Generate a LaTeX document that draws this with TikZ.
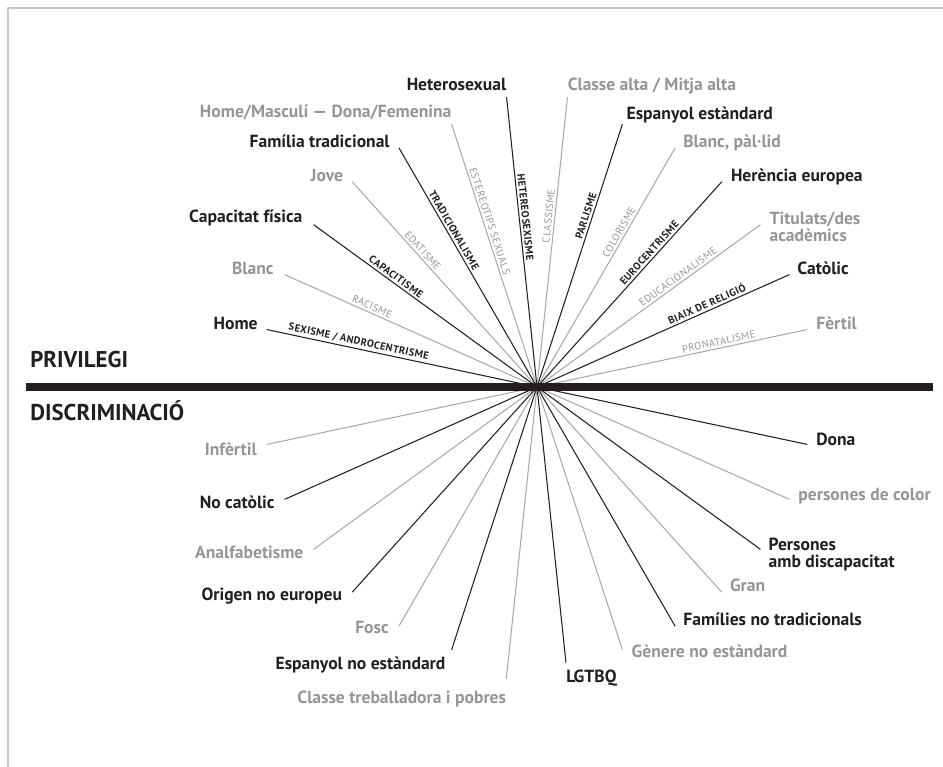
\documentclass[tikz,border=0pt]{standalone}
\usepackage{fontspec}
\setmainfont{PT Sans}
\newfontfamily\ismfont{PT Sans}[LetterSpace=4.0]
\definecolor{blk}{HTML}{231F20}
\definecolor{gry}{HTML}{939598}
\definecolor{gryline}{HTML}{A7A9AC}
\definecolor{marc}{HTML}{C8C8C8}

\begin{document}
\begin{tikzpicture}[line cap=round, line join=round, font=\fontsize{10}{9.8}\selectfont\bfseries]
	\tikzset{
		pol/.style={line width=0.6pt, blk},
		polg/.style={line width=0.6pt, gryline},
		ism/.style={sloped, above, inner sep=1.2pt, font=\ismfont\fontsize{5.9}{6}\selectfont\bfseries, text=blk},
		ismg/.style={sloped, above, inner sep=1.2pt, font=\ismfont\fontsize{5.9}{6}\selectfont, text=gry},
		lab/.style={inner sep=0pt, text=blk},
		labg/.style={inner sep=0pt, text=gry},
		titol/.style={inner sep=0pt, anchor=base west, font=\fontsize{13}{15}\selectfont\bfseries, text=blk}
	}
	\useasboundingbox (-10.74,-7.60) rectangle (8.12,7.74);
	% marc
	\draw[marc, line width=0.8pt] (-10.58,-7.60) -- (-10.58,7.58) -- (8.12,7.58);
	
	% extrems de les línies
	\coordinate (O) at (0,0);
	\foreach \a [count=\i] in {168,156,...,12} {
		\coordinate (t\i) at (\a:5.52);
		\coordinate (b\i) at (\a+180:5.52);
	}
	\coordinate (t7) at (96:5.82);
	\coordinate (b7) at (276:5.54);
	\coordinate (t8) at (84:5.82);
	\coordinate (b8) at (264:5.86);
	
	% línies
	\draw[pol] (t1) -- (b1) node[ism, pos=.167]{SEXISME / ANDROCENTRISME};
	\draw[polg] (t2) -- (b2) node[ismg, pos=.168]{RACISME};
	\draw[pol] (t3) -- (b3) node[ism, pos=.176]{CAPACITISME};
	\draw[polg] (t4) -- (b4) node[ismg, pos=.178]{EDATISME};
	\draw[pol] (t5) -- (b5) node[ism, pos=.179]{TRADICIONALISME};
	\draw[polg] (t6) -- (b6) node[ismg, pos=.188]{ESTEREOTIPS SEXUALS};
	\draw[pol] (t7) -- (b7) node[ism, pos=.213]{HETEREOSEXISME};
	\draw[polg] (t8) -- (b8) node[ismg, pos=.205]{CLASSISME};
	\draw[pol] (t9) -- (b9) node[ism, pos=.178]{PARLISME};
	\draw[polg] (t10) -- (b10) node[ismg, pos=.183]{COLORISME};
	\draw[pol] (t11) -- (b11) node[ism, pos=.183]{EUROCENTRISME};
	\draw[polg] (t12) -- (b12) node[ismg, pos=.176]{EDUCACIONALISME};
	\draw[pol] (t13) -- (b13) node[ism, pos=.158]{BIAIX DE RELIGIÓ};
	\draw[polg] (t14) -- (b14) node[ismg, pos=.161]{PRONATALISME};
	
	% barra
	\coordinate (barl) at (-10.22,0);
	\coordinate (barr) at (7.92,0);
	\draw[blk, line width=4.4pt, line cap=butt] (barl) -- (barr);
	\node[titol] (priv) at (-10.14,0.38) {PRIVILEGI};
	\node[titol] (discr) at (-10.14,-0.674) {DISCRIMINACIÓ};
	
	% privilegi
	\node[lab, anchor=base east] (home) at ([xshift=-0.18cm]t1) {Home};
	\node[labg, anchor=base east] (blanc) at ([xshift=-0.22cm]t2) {Blanc};
	\node[lab, anchor=base east] (capfis) at ([xshift=-0.22cm, yshift=0.04cm]t3) {Capacitat física};
	\node[labg, anchor=base east] (jove) at ([xshift=-0.18cm]t4) {Jove};
	\node[lab, anchor=base east] (famtrad) at ([xshift=-0.18cm]t5) {Família tradicional};
	\node[labg, anchor=base east] (binari) at ([yshift=0.14cm]t6) {Home/Masculí — Dona/Femenina};
	\node[lab, anchor=base east] (hetero) at ([yshift=0.15cm]t7) {Heterosexual};
	\node[labg, anchor=base west] (classalta) at ([yshift=0.15cm]t8) {Classe alta / Mitja alta};
	\node[lab, anchor=base west] (espstd) at ([xshift=0.08cm, yshift=0.1cm]t9) {Espanyol estàndard};
	\node[labg, anchor=base west] (blancpal) at ([xshift=0.16cm]t10) {Blanc, pàl·lid};
	\node[lab, anchor=base west] (heren) at ([xshift=0.18cm]t11) {Herència europea};
	\node[labg, anchor=base west, align=left] (titulats) at ([xshift=0.18cm, yshift=-0.33cm]t12) {Titulats/des\\acadèmics};
	\node[lab, anchor=base west] (catolic) at ([xshift=0.16cm]t13) {Catòlic};
	\node[labg, anchor=base west] (fertil) at ([xshift=0.18cm]t14) {Fèrtil};
	
	% discriminació
	\node[lab, anchor=mid west] (dona) at ([xshift=0.18cm, yshift=0.07cm]b1) {Dona};
	\node[labg, anchor=mid west] (pcolor) at ([xshift=0.18cm, yshift=0.07cm]b2) {persones de color};
	\node[lab, anchor=base west, align=left] (discap) at ([xshift=0.16cm, yshift=-0.36cm]b3) {Persones\\amb discapacitat};
	\node[labg, anchor=mid west] (gran) at ([xshift=0.16cm, yshift=0.09cm]b4) {Gran};
	\node[lab, anchor=mid west] (famnotrad) at ([xshift=0.16cm, yshift=0.09cm]b5) {Famílies no tradicionals};
	\node[labg, anchor=mid west] (genstd) at ([xshift=0.18cm, yshift=-0.07cm]b6) {Gènere no estàndard};
	\node[lab, anchor=mid west] (lgtbq) at ([yshift=-0.31cm]b7) {LGTBQ};
	\node[labg, anchor=mid east] (classtreb) at ([yshift=-0.41cm]b8) {Classe treballadora i pobres};
	\node[lab, anchor=mid east] (espno) at ([xshift=-0.12cm, yshift=-0.31cm]b9) {Espanyol no estàndard};
	\node[labg, anchor=mid east] (fosc) at ([xshift=-0.2cm, yshift=-0.07cm]b10) {Fosc};
	\node[lab, anchor=mid east] (origen) at ([xshift=-0.2cm, yshift=-0.09cm]b11) {Origen no europeu};
	\node[labg, anchor=mid east] (analf) at ([xshift=-0.2cm, yshift=-0.09cm]b12) {Analfabetisme};
	\node[lab, anchor=mid east] (nocat) at ([xshift=-0.2cm, yshift=-0.09cm]b13) {No catòlic};
	\node[labg, anchor=mid east] (infertil) at ([xshift=-0.2cm, yshift=-0.13cm]b14) {Infèrtil};
\end{tikzpicture}
\end{document}
